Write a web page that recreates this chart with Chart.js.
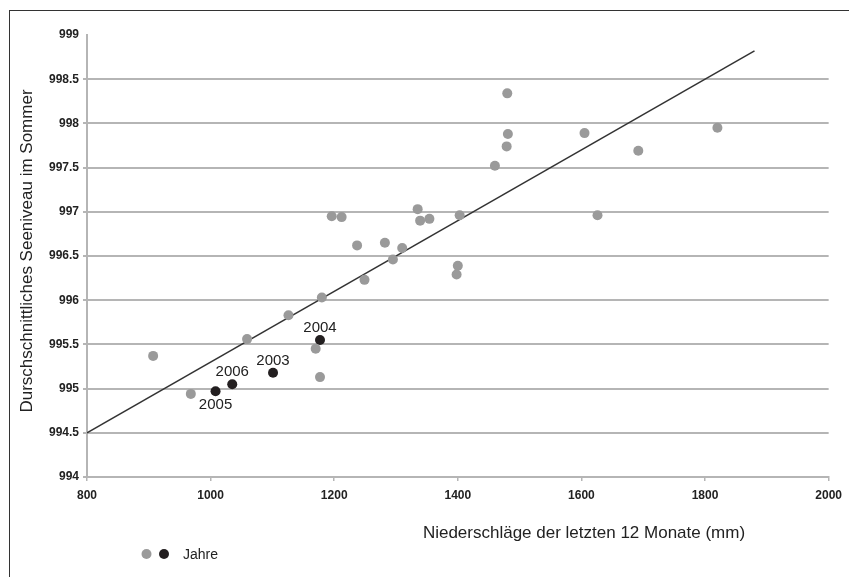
<!DOCTYPE html>
<html>
<head>
<meta charset="utf-8">
<script src="https://cdn.jsdelivr.net/npm/chart.js@4/dist/chart.umd.min.js"></script>
<style>
  html, body { margin: 0; padding: 0; background: #fff; }
  #wrap { position: relative; width: 849px; height: 577px; }
  #frame { position: absolute; left: 9px; top: 10px; right: 0; bottom: 0; border-left: 1.5px solid #333; border-top: 1.5px solid #333; pointer-events: none; }
</style>
</head>
<body>
<div id="wrap">
  <canvas id="chart" width="849" height="577"></canvas>
  <div id="frame"></div>
</div>
<script>
// rainfall (mm) and average summer lake level, earlier years in grey
const greyRain  = [907, 968, 1059, 1126, 1180, 1170, 1177, 1196, 1212, 1237, 1249, 1282, 1295, 1310, 1335, 1339, 1354, 1403, 1398, 1400, 1460, 1479, 1481, 1480, 1605, 1626, 1692, 1820];
const greyLevel = [995.37, 994.94, 995.56, 995.83, 996.03, 995.45, 995.13, 996.95, 996.94, 996.62, 996.23, 996.65, 996.46, 996.59, 997.03, 996.90, 996.92, 996.96, 996.29, 996.39, 997.52, 997.74, 997.88, 998.34, 997.89, 996.96, 997.69, 997.95];

// highlighted recent years
const years      = ['2005', '2006', '2003', '2004'];
const yearRain   = [1008, 1035, 1101, 1177];
const yearLevel  = [994.97, 995.05, 995.18, 995.55];

// trend line end points
const trendRain  = [800, 1880];
const trendLevel = [994.5, 998.82];

const yTicks = [994, 994.5, 995, 995.5, 996, 996.5, 997, 997.5, 998, 998.5, 999];
const xTicks = [800, 1000, 1200, 1400, 1600, 1800, 2000];

const yTitle = 'Durschschnittliches Seeniveau im Sommer';
const xTitle = 'Niederschläge der letzten 12 Monate (mm)';
const legendText = 'Jahre';

const FONT = '"Liberation Sans", Arial, sans-serif';
const GREY = '#9a9a9a';
const BLACK = '#231f20';
const GRID = '#b5b5b5';

const toPoints = (xs, ys) => xs.map((x, i) => ({ x: x, y: ys[i] }));

// axis titles, year labels and the little legend
const extras = {
  id: 'extras',
  afterDraw(chart) {
    const ctx = chart.ctx;
    ctx.save();
    ctx.fillStyle = '#222';
    ctx.textAlign = 'center';
    ctx.textBaseline = 'middle';

    // year labels
    ctx.font = '15px ' + FONT;
    const meta = chart.getDatasetMeta(1);
    meta.data.forEach((pt, i) => {
      const dy = years[i] === '2005' ? 14 : -12;
      ctx.fillText(years[i], pt.x, pt.y + dy);
    });

    // axis titles
    ctx.font = '17px ' + FONT;
    ctx.fillText(xTitle, 584, 533);
    ctx.save();
    ctx.translate(27, 251);
    ctx.rotate(-Math.PI / 2);
    ctx.fillText(yTitle, 0, 0);
    ctx.restore();

    // legend
    ctx.fillStyle = GREY;
    ctx.beginPath(); ctx.arc(146.5, 554, 5, 0, Math.PI * 2); ctx.fill();
    ctx.fillStyle = BLACK;
    ctx.beginPath(); ctx.arc(164, 554, 5, 0, Math.PI * 2); ctx.fill();
    ctx.fillStyle = '#222';
    ctx.textAlign = 'left';
    ctx.font = '14px ' + FONT;
    ctx.fillText(legendText, 183, 555);
    ctx.restore();
  }
};

new Chart(document.getElementById('chart'), {
  type: 'scatter',
  data: {
    datasets: [{
      data: toPoints(greyRain, greyLevel),
      backgroundColor: GREY,
      borderWidth: 0,
      pointRadius: 5
    }, {
      data: toPoints(yearRain, yearLevel),
      backgroundColor: BLACK,
      borderWidth: 0,
      pointRadius: 5
    }, {
      type: 'line',
      data: toPoints(trendRain, trendLevel),
      borderColor: '#333',
      borderWidth: 1.5,
      pointRadius: 0,
      fill: false
    }]
  },
  options: {
    responsive: false,
    animation: false,
    events: [],
    layout: { padding: { left: 0, top: 35, right: 17, bottom: 0 } },
    plugins: { legend: { display: false }, tooltip: { enabled: false } },
    scales: {
      x: {
        type: 'linear',
        min: 800,
        max: 2000,
        afterFit(scale) { scale.height = 100; },
        afterBuildTicks(scale) { scale.ticks = xTicks.map(v => ({ value: v })); },
        grid: { drawOnChartArea: false, drawTicks: true, tickLength: 4, color: GRID, lineWidth: 1.5 },
        border: { color: GRID, width: 2 },
        ticks: {
          padding: 7, color: '#222', font: { family: FONT, size: 12, weight: 'bold' },
          callback: v => String(v)
        }
      },
      y: {
        type: 'linear',
        min: 994,
        max: 999,
        afterFit(scale) { scale.width = 87; },
        afterBuildTicks(scale) { scale.ticks = yTicks.map(v => ({ value: v })); },
        grid: {
          drawTicks: true,
          tickLength: 4,
          color: ctx => (ctx.tick && ctx.tick.value === 999) ? 'rgba(0,0,0,0)' : GRID,
          lineWidth: 2
        },
        border: { color: GRID, width: 2 },
        ticks: {
          padding: 4, color: '#222', font: { family: FONT, size: 12, weight: 'bold' },
          callback: v => String(v)
        }
      }
    }
  },
  plugins: [extras]
});
</script>
</body>
</html>
